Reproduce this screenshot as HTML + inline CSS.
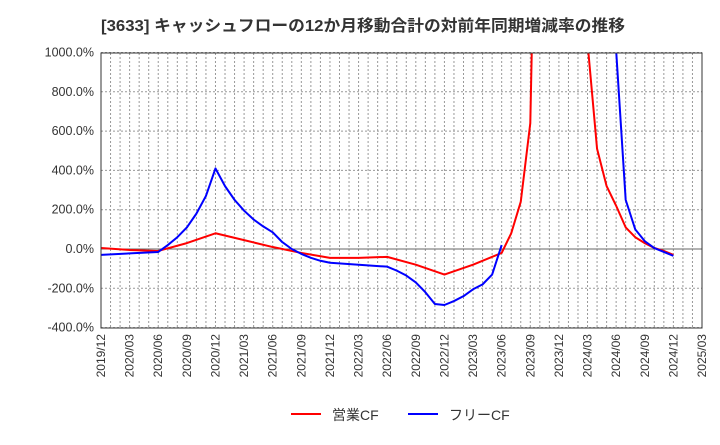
<!DOCTYPE html>
<html><head><meta charset="utf-8"><style>
body{margin:0;background:#fff;font-family:"Liberation Sans","Noto Sans CJK JP",sans-serif}
</style></head><body>
<svg width="720" height="440" xmlns="http://www.w3.org/2000/svg">
<text x="101" y="31" font-size="16" font-weight="bold" fill="#333" textLength="524" lengthAdjust="spacingAndGlyphs" font-family="Liberation Sans, Noto Sans CJK JP, sans-serif">[3633]  キャッシュフローの12か月移動合計の対前年同期増減率の推移</text>
<g id="grid"></g><g id="axes"></g>
<defs><clipPath id="pc"><rect x="101" y="53" width="601" height="275"/></clipPath></defs>
<g id="series" clip-path="url(#pc)"></g>
<rect x="101" y="53" width="601" height="275" fill="none" stroke="#333"/>
<g>
<line x1="291" y1="414" x2="321" y2="414" stroke="#f00" stroke-width="2"/>
<text x="332" y="420" font-size="14" fill="#333">営業CF</text>
<line x1="408" y1="414" x2="438" y2="414" stroke="#00f" stroke-width="2"/>
<text x="449" y="420" font-size="14" fill="#333">フリーCF</text>
</g>
</svg>
<script>
const yTicks=[1000,800,600,400,200,0,-200,-400];
const xLabels=["2019/12","2020/03","2020/06","2020/09","2020/12","2021/03","2021/06","2021/09","2021/12","2022/03","2022/06","2022/09","2022/12","2023/03","2023/06","2023/09","2023/12","2024/03","2024/06","2024/09","2024/12","2025/03"];
// month index from 2019/12
const redMonths=[0,3,6,9,12,15,18,21,24,27,30,33,36,39,42,43,44,45,46,50,51,52,53,54,55,56,57,58,59,60];
const redVals=[5,-5,-10,30,80,45,10,-20,-45,-45,-40,-80,-130,-80,-20,80,240,640,3000,3000,1050,510,320,220,110,60,30,5,-10,-30];
const blueMonths=[0,6,7,8,9,10,11,12,13,14,15,16,17,18,19,20,21,22,23,24,30,31,32,33,34,35,36,37,38,39,40,41,42,53,54,55,56,57,58,59,60];
const blueVals=[-30,-15,20,60,110,180,270,410,320,250,195,150,115,85,35,0,-25,-45,-60,-70,-90,-110,-135,-170,-220,-280,-285,-265,-240,-205,-180,-130,20,3000,1010,250,100,40,5,-15,-35];
const NS="http://www.w3.org/2000/svg";
const X=m=>101+m*601/63, Y=v=>249-v*0.1965;
const grid=document.getElementById('grid'),axes=document.getElementById('axes'),ser=document.getElementById('series');
function mk(tag,at,p){const e=document.createElementNS(NS,tag);for(const k in at)e.setAttribute(k,at[k]);p.appendChild(e);return e;}
for(let m=1;m<63;m++){const l=mk('line',{x1:X(m),x2:X(m),y1:53,y2:328,stroke:'#999','stroke-dasharray':'2,2','stroke-width':1},grid);

}
yTicks.forEach(v=>{const l=mk('line',{x1:101,x2:702,y1:Y(v),y2:Y(v),stroke:v===0?'#666':'#999','stroke-dasharray':v===0?'':'2,2'},grid);


const t=mk('text',{x:94,y:Y(v)+4,'text-anchor':'end','font-size':12.5,fill:'#333'},axes);t.textContent=v.toFixed(1)+'%';

});
xLabels.forEach((s,i)=>{const x=X(i*3);const t=mk('text',{x:x+4,y:334,'text-anchor':'end','font-size':12,fill:'#333',transform:`rotate(-90 ${x+4} 334)`},axes);t.textContent=s;

});
function line(ms,vs,c,name){const p=mk('polyline',{points:ms.map((m,i)=>X(m)+','+Y(vs[i])).join(' '),fill:'none',stroke:c,'stroke-width':2,'stroke-linejoin':'round'},ser);

}
line(redMonths,redVals,'#f00','operating-cf-line');
line(blueMonths.slice(0,33),blueVals.slice(0,33),'#00f','free-cf-line');
line(blueMonths.slice(33),blueVals.slice(33),'#00f','free-cf-line-2');
</script>
</body></html>
